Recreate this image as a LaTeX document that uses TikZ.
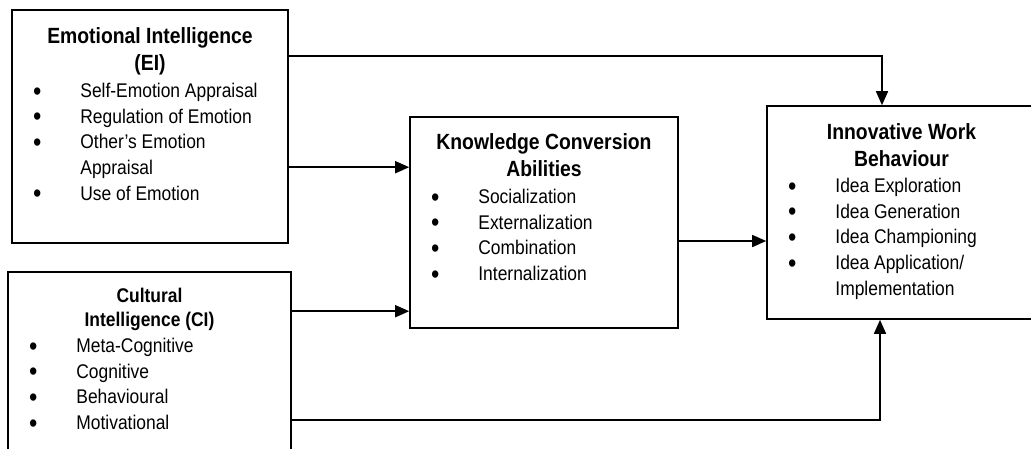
\documentclass[tikz,border=0pt]{standalone}
\usepackage{fontspec}
\setmainfont{Liberation Sans}[FakeStretch=0.88]
\usetikzlibrary{arrows.meta}
\newcommand{\itm}[1]{\makebox[28pt]{\raisebox{-2.6pt}{\fontsize{27}{0}\selectfont\textbullet}}\hspace{29pt}#1}
\newcommand{\cnt}[1]{\hspace*{57pt}#1}
\newcommand{\topline}{\rule{0pt}{20pt}}
\begin{document}
\begin{tikzpicture}[x=1pt,y=-1pt,
    box/.style={draw,line width=1.6pt,inner sep=0pt},
    boxtitle/.style={anchor=north,align=center,inner sep=0pt,font=\fontsize{22}{27}\selectfont\bfseries},
    boxsubtitle/.style={boxtitle,font=\fontsize{19.8}{24}\selectfont\bfseries},
    boxitems/.style={anchor=north west,align=left,inner sep=0pt,font=\fontsize{19.8}{25.7}\selectfont},
    arr/.style={line width=1.6pt,-{Triangle[length=14pt,width=12pt]}}]
    \useasboundingbox (0,0) rectangle (1031,448);
    %
    \node[box,minimum width=276pt,minimum height=233pt] (ei) at (150,126.5) {};
    \node[boxtitle] (eititle) at ([yshift=-14pt]ei.north) {\topline Emotional Intelligence\\(EI)};
    \node[boxitems] (eilist) at ([shift={(12pt,-68pt)}]ei.north west)
        {\topline\itm{Self-Emotion Appraisal}\\ \itm{Regulation of Emotion}\\ \itm{Other’s Emotion}\\ \cnt{Appraisal}\\ \itm{Use of Emotion}};
    %
    \node[box,minimum width=283pt,minimum height=200pt] (ci) at (149.5,372) {};
    \node[boxsubtitle] (cititle) at ([yshift=-11pt]ci.north) {\topline Cultural\\Intelligence (CI)};
    \node[boxitems] (cilist) at ([shift={(12pt,-61pt)}]ci.north west)
        {\topline\itm{Meta-Cognitive}\\ \itm{Cognitive}\\ \itm{Behavioural}\\ \itm{Motivational}};
    %
    \node[box,minimum width=268pt,minimum height=211pt] (kca) at (544,222.5) {};
    \node[boxtitle] (kcatitle) at ([yshift=-13pt]kca.north) {\topline Knowledge Conversion\\Abilities};
    \node[boxitems] (kcalist) at ([shift={(12pt,-67pt)}]kca.north west)
        {\topline\itm{Socialization}\\ \itm{Externalization}\\ \itm{Combination}\\ \itm{Internalization}};
    %
    \node[box,minimum width=269pt,minimum height=213pt] (iwb) at (901.5,212.5) {};
    \node[boxtitle] (iwbtitle) at ([yshift=-14pt]iwb.north) {\topline Innovative Work\\Behaviour};
    \node[boxitems] (iwblist) at ([shift={(12pt,-67pt)}]iwb.north west)
        {\topline\itm{Idea Exploration}\\ \itm{Idea Generation}\\ \itm{Idea Championing}\\ \itm{Idea Application/}\\ \cnt{Implementation}};
    %
    \draw[arr] ([yshift=-47pt]ei.north east) -| ([xshift=-19.5pt]iwb.north);
    \draw[arr] ([yshift=-158pt]ei.north east) coordinate (eiout) -- (eiout -| kca.west);
    \draw[arr] ([yshift=-40pt]ci.north east) coordinate (ciout) -- (ciout -| kca.west);
    \draw[arr] ([yshift=-18.5pt]kca.east) coordinate (kcaout) -- (kcaout -| iwb.west);
    \draw[arr] ([yshift=-149pt]ci.north east) -| ([xshift=-21.5pt]iwb.south);
\end{tikzpicture}
\end{document}
